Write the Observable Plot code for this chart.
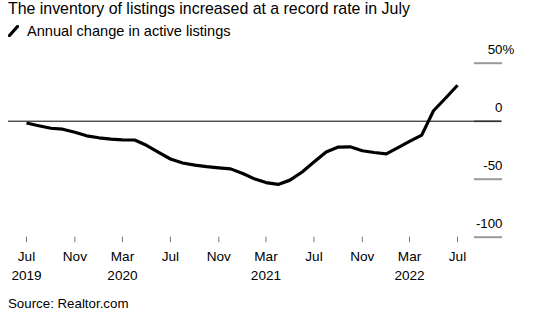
<!DOCTYPE html>
<html>
<head>
<meta charset="utf-8">
<script src="https://cdn.jsdelivr.net/npm/d3@7"></script>
<script src="https://cdn.jsdelivr.net/npm/@observablehq/plot@0.6"></script>
<style>
  html, body { margin: 0; padding: 0; background: #fff; }
  body { width: 552px; height: 324px; position: relative; overflow: hidden;
         font-family: "Liberation Sans", Arial, Helvetica, sans-serif; color: #000; }
  #title { position: absolute; left: 8px; top: 0px; font-size: 15.9px; white-space: nowrap; }
  #legend { position: absolute; left: 8px; top: 23px; font-size: 14.6px; white-space: nowrap; display: flex; align-items: center; }
  #legend svg { margin-right: 8px; }
  #chart { position: absolute; left: 0; top: 40px; }
  #source { position: absolute; left: 8px; top: 296px; font-size: 13.3px; white-space: nowrap; }
</style>
</head>
<body>
<div id="title">The inventory of listings increased at a record rate in July</div>
<div id="legend"><svg width="11" height="12" viewBox="0 0 11 12"><line x1="1.5" y1="10.5" x2="9.5" y2="1.5" stroke="#000" stroke-width="3.2" stroke-linecap="round"/></svg><span>Annual change in active listings</span></div>
<div id="chart"></div>
<div id="source">Source: Realtor.com</div>
<script>
// Monthly observations, Jul 2019 – Jul 2022
const months = [
  "2019-07","2019-08","2019-09","2019-10","2019-11","2019-12",
  "2020-01","2020-02","2020-03","2020-04","2020-05","2020-06",
  "2020-07","2020-08","2020-09","2020-10","2020-11","2020-12",
  "2021-01","2021-02","2021-03","2021-04","2021-05","2021-06",
  "2021-07","2021-08","2021-09","2021-10","2021-11","2021-12",
  "2022-01","2022-02","2022-03","2022-04","2022-05","2022-06","2022-07"
];
// Annual change in active listings (%)
const annualChange = [
  -1.5, -3.9, -6.1, -6.9, -9.5, -12.6,
  -14.3, -15.5, -16.1, -16.2, -20.8, -26.9,
  -32.6, -36.0, -37.8, -39.1, -40.2, -41.1,
  -45.1, -49.9, -52.9, -54.5, -50.8, -43.8,
  -35.2, -26.5, -22.3, -22.1, -25.5, -27.0,
  -28.2, -22.6, -17.4, -12.0, 9.0, 20.0, 31.0
];
const xTickMonths = ["2019-07","2019-11","2020-03","2020-07","2020-11","2021-03","2021-07","2021-11","2022-03","2022-07"];
const yTicks = [50, 0, -50, -100];

const parse = d3.utcParse("%Y-%m");
const data = months.map((m, i) => ({date: parse(m), value: annualChange[i]}));
const xTicks = xTickMonths.map(parse);
const fmtMonth = d3.utcFormat("%b");
const fmtYear = d3.utcFormat("%Y");
const xLabel = d => fmtMonth(d) + (d.getUTCMonth() === 2 || (d.getUTCMonth() === 6 && d.getUTCFullYear() === 2019) ? "\n" + fmtYear(d) : "");

const chart = Plot.plot({
  width: 552,
  height: 250,
  marginLeft: 26,
  marginRight: 95,
  marginTop: 22.7,
  marginBottom: 53.3,
  style: {fontFamily: '"Liberation Sans", Arial, Helvetica, sans-serif', fontSize: "13px", color: "#000", background: "#fff", overflow: "visible"},
  x: {type: "utc", domain: [xTicks[0], xTicks[xTicks.length - 1]]},
  y: {domain: [-100, 50]},
  marks: [
    Plot.axisX({ticks: xTicks, tickSize: 5.5, tickPadding: 4.5, stroke: "#777", strokeWidth: 1,
                tickFormat: xLabel, fill: "#000", fontSize: 13.6, lineHeight: 1.4, label: null}),
    Plot.axisY({anchor: "right", ticks: yTicks, tickSize: 28, dx: 16, stroke: "#9a9a9a", strokeWidth: 2,
                tickFormat: () => "", label: null}),
    Plot.axisY({anchor: "right", ticks: yTicks, tickSize: 0, tickPadding: 0, textAnchor: "end",
                dx: 45, dy: -13, fill: "#000", fontSize: 13.3, tickFormat: d => String(d), label: null}),
    Plot.text([50], {y: d => d, text: () => "%", frameAnchor: "right", textAnchor: "start",
                dx: 45, dy: -13, fill: "#000", fontSize: 13.3}),
    Plot.ruleY([0], {stroke: "#000", strokeWidth: 1, insetLeft: -18, insetRight: -44}),
    Plot.line(data, {x: "date", y: "value", stroke: "#000", strokeWidth: 3.2, strokeLinejoin: "round", strokeLinecap: "butt"})
  ]
});
document.getElementById("chart").appendChild(chart);
</script>
</body>
</html>
